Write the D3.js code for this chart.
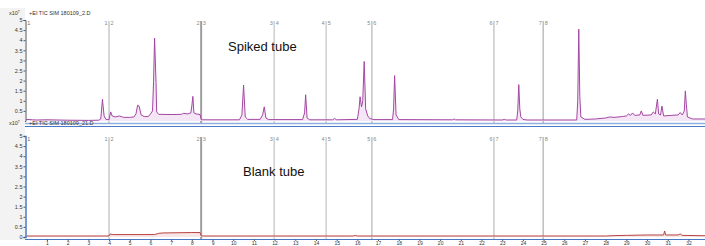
<!DOCTYPE html>
<html>
<head>
<meta charset="utf-8">
<script src="https://cdn.jsdelivr.net/npm/d3@7"></script>
<style>
  body { margin: 0; background: #fff; }
  svg { display: block; font-family: "Liberation Sans", Arial, sans-serif; }
</style>
</head>
<body>
<div id="chart-area"></div>
<script>
// retention time (min) / abundance (x10^7)
let spikedTime = [0, 0.3, 0.5, 1, 2, 3, 3.5, 3.6, 3.68, 3.76, 3.85, 4.0, 4.02, 4.08, 4.15, 4.3, 4.5, 4.7, 5.0, 5.2,
    5.3, 5.38, 5.45, 5.55, 5.7, 5.9, 6.0, 6.1, 6.15, 6.2, 6.27, 6.3, 6.4, 7.0, 7.5, 7.6, 7.8, 7.95, 8.0, 8.05,
    8.1, 8.2, 8.4, 8.45, 8.5, 10.3, 10.42, 10.5, 10.58, 10.7, 11.3, 11.42, 11.5, 11.58, 11.7, 13.35, 13.45, 13.5, 13.57, 13.7,
    14.8, 14.9, 15.0, 16.0, 16.08, 16.13, 16.2, 16.26, 16.33, 16.4, 16.5, 16.6, 16.8, 17.7, 17.75, 17.8, 17.87, 18.0, 20.6, 20.68,
    20.75, 23.0, 23.1, 23.2, 23.7, 23.75, 23.8, 23.85, 23.9, 24.0, 24.2, 26.6, 26.65, 26.7, 26.75, 26.8, 27.0, 27.5, 28.0, 28.2,
    28.4, 28.8, 29.0, 29.1, 29.2, 29.3, 29.4, 29.65, 29.72, 29.8, 30.2, 30.3, 30.4, 30.5, 30.56, 30.65, 30.72, 30.8, 31.2, 31.5,
    31.6, 31.7, 31.8, 31.85, 31.9, 31.95, 32.2, 32.9];
let spikedValue = [0.08, 0.06, 0.05, 0.06, 0.04, 0.03, 0.04, 0.1, 1.08, 0.25, 0.08, 0.06, 0.2, 0.45, 0.25, 0.2, 0.25, 0.18, 0.18, 0.2,
    0.35, 0.78, 0.74, 0.3, 0.22, 0.22, 0.35, 0.5, 1.95, 4.1, 1.9, 0.45, 0.33, 0.32, 0.33, 0.38, 0.35, 0.4, 0.75, 1.22,
    0.4, 0.35, 0.32, 0.06, 0.06, 0.06, 0.3, 1.78, 0.2, 0.08, 0.08, 0.3, 0.7, 0.15, 0.07, 0.07, 0.4, 1.3, 0.15, 0.06,
    0.06, 0.12, 0.06, 0.08, 0.6, 1.2, 0.7, 1.0, 2.95, 0.6, 0.25, 0.12, 0.07, 0.07, 0.6, 2.25, 0.3, 0.07, 0.06, 0.1,
    0.06, 0.05, 0.08, 0.05, 0.05, 0.5, 1.8, 0.6, 0.2, 0.08, 0.05, 0.05, 1.0, 4.55, 1.2, 0.2, 0.08, 0.1, 0.15, 0.2,
    0.18, 0.22, 0.25, 0.35, 0.28, 0.4, 0.28, 0.3, 0.5, 0.28, 0.3, 0.45, 0.35, 1.08, 0.35, 0.3, 0.74, 0.25, 0.28, 0.3,
    0.42, 0.3, 0.5, 1.49, 0.8, 0.2, 0.1, 0.1];

let blankTime = [0, 4.0, 4.05, 4.2, 6.2, 6.4, 6.6, 8.0, 8.4, 8.45, 15.8, 15.9, 16.0, 28.0, 28.5, 29.0, 30.0, 30.8, 30.85, 30.9,
    31.5, 31.6, 31.7, 32.9];
let blankValue = [0.05, 0.05, 0.15, 0.12, 0.12, 0.18, 0.2, 0.22, 0.22, 0.05, 0.05, 0.08, 0.05, 0.05, 0.07, 0.08, 0.1, 0.1, 0.3, 0.1,
    0.1, 0.15, 0.08, 0.06];

let yTicks = [0, 0.5, 1, 1.5, 2, 2.5, 3, 3.5, 4, 4.5, 5];
let xTicks = d3.range(1, 33);
// segment markers: position (min) and label
let markerTime = [0, 4.0, 8.45, 11.98, 14.49, 16.7, 22.6, 24.98];
let markerLabel = ["1", "1|2", "2|3", "3|4", "4|5", "5|6", "6|7", "7|8"];
let markerColor = ["none", "#d6d6d6", "#9e9e9e", "#cfcfcf", "#cfcfcf", "#c4c4c4", "#c8c8c8", "#bdbdbd"];

let width = 705, height = 246;

let svg = d3.select("#chart-area")
    .append("svg")
    .attr("width", width)
    .attr("height", height);

let x = d3.scaleLinear().domain([0, 32.8]).range([26.3, 705]);

let panels = [
    { time: spikedTime, value: spikedValue, top: 16, y0: 121, y5: 20, bottom: 123,
      file: "+EI TIC SIM 180109_2.D", title: "Spiked tube", tx: 228, ty: 51,
      line: "#a347a3", fill: "#f5e6f5", selected: false },
    { time: blankTime, value: blankValue, top: 126, y0: 237, y5: 136, bottom: 239,
      file: "+EI TIC SIM 180109_21.D", title: "Blank tube", tx: 243, ty: 176,
      line: "#b8433f", fill: "#f8e6e6", selected: true }
];

panels.forEach(function (p) {
    let y = d3.scaleLinear().domain([0, 5]).range([p.y0, p.y5]);
    let g = svg.append("g");

    // grey label strip
    g.append("rect")
        .attr("x", 0).attr("y", p.top - 8)
        .attr("width", 25).attr("height", p.bottom - p.top + 9)
        .attr("fill", "#f3f3f3");

    // marker lines
    markerTime.forEach(function (t, i) {
        let mx = x(t);
        if (i > 0) {
            g.append("line")
                .attr("x1", mx).attr("x2", mx)
                .attr("y1", p.y5 + 1).attr("y2", p.bottom)
                .attr("stroke", markerColor[i])
                .attr("stroke-width", i < 3 ? 2 : 1.5);
            let parts = markerLabel[i].split("|");
            g.append("text").attr("x", mx - 1.5).attr("y", p.y5 + 5)
                .attr("text-anchor", "end").attr("font-size", 5.5).attr("fill", "#888")
                .text(parts[0]);
            g.append("text").attr("x", mx + 1.5).attr("y", p.y5 + 5)
                .attr("font-size", 5.5).attr("fill", "#888")
                .text(parts[1]);
        } else {
            g.append("text").attr("x", mx + 1).attr("y", p.y5 + 5)
                .attr("font-size", 5.5).attr("fill", "#666")
                .text(markerLabel[i]);
        }
    });

    let pts = p.time.map(function (t, i) { return [t, p.value[i]]; });

    g.append("path")
        .datum(pts)
        .attr("fill", p.fill)
        .attr("d", d3.area()
            .x(function (d) { return x(d[0]); })
            .y0(y(0))
            .y1(function (d) { return y(d[1]); }));

    g.append("path")
        .datum(pts)
        .attr("fill", "none")
        .attr("stroke", p.line)
        .attr("stroke-width", 1)
        .attr("d", d3.line()
            .x(function (d) { return x(d[0]); })
            .y(function (d) { return y(d[1]); }));

    // y axis
    let yAxis = d3.axisLeft(y).tickValues(yTicks).tickSize(2).tickPadding(1)
        .tickFormat(function (d) { return d; });
    let ya = g.append("g").attr("transform", "translate(25.5,0)").call(yAxis);
    ya.select(".domain").attr("stroke", p.selected ? "#4a78c8" : "#555").attr("stroke-width", p.selected ? 1.5 : 1);
    ya.selectAll(".tick line").attr("stroke", "#555");
    ya.selectAll("text").attr("font-size", 5.5).attr("fill", "#333")
        .attr("font-family", "Liberation Sans, Arial, sans-serif");

    // panel frame
    if (p.selected) {
        g.append("line").attr("x1", 25).attr("x2", width).attr("y1", p.top + 0.5).attr("y2", p.top + 0.5)
            .attr("stroke", "#4a78c8").attr("stroke-width", 1.2);
        g.append("line").attr("x1", 25).attr("x2", width).attr("y1", p.bottom + 0.5).attr("y2", p.bottom + 0.5)
            .attr("stroke", "#4a78c8").attr("stroke-width", 1.2);
    } else {
        g.append("line").attr("x1", 25).attr("x2", width).attr("y1", p.bottom + 0.5).attr("y2", p.bottom + 0.5)
            .attr("stroke", "#8fb0e0").attr("stroke-width", 1.5);
    }

    g.append("text").attr("x", 9).attr("y", p.top - 1)
        .attr("font-size", 5.5).attr("fill", "#333").text("x10\u2077");
    g.append("text").attr("x", 29).attr("y", p.top - 1)
        .attr("font-size", 5.5).attr("fill", "#333").text(p.file);

    g.append("text").attr("x", p.tx).attr("y", p.ty)
        .attr("font-size", 13).attr("fill", "#111").text(p.title);
});

// x axis under the bottom panel
let xAxis = d3.axisBottom(x).tickValues(xTicks).tickSize(1.5).tickPadding(0.5);
let xa = svg.append("g").attr("transform", "translate(0,239.5)").call(xAxis);
xa.select(".domain").remove();
xa.selectAll(".tick line").attr("stroke", "#555");
xa.selectAll("text").attr("font-size", 5).attr("fill", "#333")
    .attr("font-family", "Liberation Sans, Arial, sans-serif");
</script>
</body>
</html>
